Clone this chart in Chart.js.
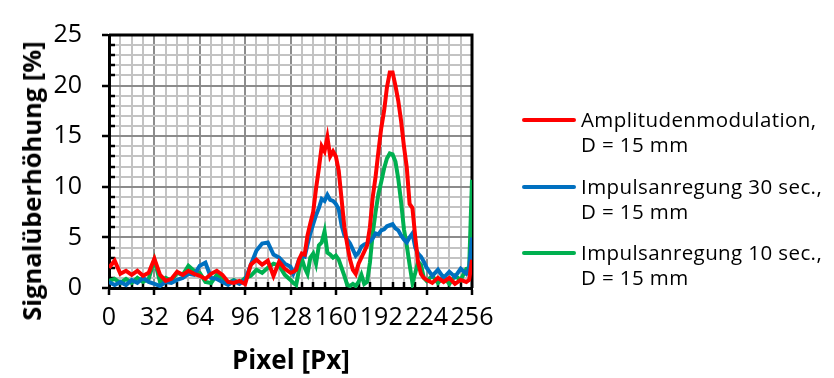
<!DOCTYPE html>
<html>
<head>
<meta charset="utf-8">
<script src="https://cdn.jsdelivr.net/npm/chart.js@4.4.1/dist/chart.umd.min.js"></script>
<style>
  html, body { margin: 0; padding: 0; background: #fff; }
  #wrap { position: relative; width: 834px; height: 378px; font-family: "Open Sans", sans-serif; color: #000; }
  #c { position: absolute; left: 0; top: 0; }
  .ytitle { position: absolute; left: 31px; top: 181px; transform: translate(-50%, -50%) rotate(-90deg);
            font-weight: bold; font-size: 25.5px; line-height: 26px; white-space: nowrap; }
  .xtitle { position: absolute; left: 291px; top: 359px; transform: translate(-50%, -50%);
            font-weight: bold; font-size: 26px; line-height: 26px; white-space: nowrap; }
  .sw { position: absolute; height: 4px; width: 54px; border-radius: 2px; }
  .lt { position: absolute; font-size: 20.5px; letter-spacing: 0.4px; line-height: 25px; white-space: nowrap; }
</style>
</head>
<body>
<div id="wrap">
  <canvas id="c" width="834" height="378"></canvas>
  <div class="ytitle">Signalüberhöhung [%]</div>
  <div class="xtitle">Pixel [Px]</div>
</div>
<script>
// ---- data ----
const pixels = [0,4,8,12,16,20,24,28,32,36,40,44,48,52,56,60,64,68,72,76,80,84,88,92,96,100,104,108,112,116,120,124,128,
  130,132,134,136,138,140,142,144,146,148,150,152,154,156,158,160,162,164,166,168,170,172,174,176,178,
  180,182,184,186,188,190,192,194,196,198,200,202,204,206,208,210,212,214,216,218,220,222,224,
  228,232,236,240,244,248,252,254,256];

const amplitudenmodulation = [2.0,2.7,1.4,1.7,1.3,1.7,1.2,1.5,2.9,1.3,0.7,0.9,1.6,1.3,1.7,1.4,1.2,0.9,1.4,1.7,1.3,0.6,0.5,0.7,0.4,2.3,2.8,2.3,2.7,1.2,2.6,1.9,1.5,
  1.6,1.8,2.8,3.4,3.3,5.2,6.4,7.5,9.8,11.8,14.0,13.5,14.9,13.0,13.5,13.0,11.6,8.8,6.0,4.3,2.8,1.8,1.4,2.4,3.0,
  3.6,4.2,6.0,9.0,11.0,13.5,15.8,17.5,19.8,21.3,21.3,20.0,18.5,16.5,14.0,11.9,8.3,7.9,5.0,2.5,1.4,1.0,0.8,
  0.5,1.0,0.6,1.0,0.4,0.8,0.6,0.8,2.8];

const impuls30 = [0.6,0.3,0.6,0.3,0.8,0.5,1.0,0.6,0.4,0.2,0.6,0.5,0.8,1.0,1.4,1.3,2.2,2.5,1.0,0.9,0.6,0.3,0.7,0.4,0.8,2.3,3.7,4.4,4.5,3.3,3.0,2.4,2.1,
  1.4,2.0,2.8,3.2,3.1,4.3,5.4,6.3,7.2,7.9,8.8,8.6,9.2,8.7,8.6,8.3,7.8,6.2,5.2,4.8,4.4,3.8,3.2,3.5,4.1,
  4.3,4.4,4.6,4.9,5.4,5.3,5.7,5.8,6.1,6.2,6.3,5.9,5.7,5.2,4.8,4.5,5.0,5.4,4.0,3.4,3.1,2.6,2.0,
  1.2,1.8,1.0,1.6,1.1,1.9,1.4,2.0,5.0];

const impuls10 = [0.7,0.9,0.5,0.9,0.5,1.0,0.6,0.9,2.8,0.6,1.0,0.7,1.5,1.3,2.2,1.7,1.5,0.6,0.5,1.3,1.0,0.5,0.8,0.5,1.0,1.2,1.8,1.5,2.0,2.4,2.2,1.3,0.8,
  0.5,0.3,1.8,2.9,2.0,1.4,3.0,3.4,2.4,4.2,4.5,5.6,3.5,3.3,3.0,3.2,2.8,2.0,1.2,0.3,0.2,0.4,0.2,0.6,1.3,
  0.4,0.6,2.5,5.4,7.5,9.3,10.5,11.8,12.8,13.3,13.2,12.5,10.8,8.5,5.8,4.2,2.3,0.5,1.5,2.6,2.3,1.0,0.7,
  1.2,0.5,1.1,0.4,1.2,0.8,1.9,2.0,10.7];

const seriesLabels = [
  ["Amplitudenmodulation,", "D = 15 mm"],
  ["Impulsanregung 30 sec.,", "D = 15 mm"],
  ["Impulsanregung 10 sec.,", "D = 15 mm"]
];
const seriesColors = ["#ff0000", "#0070c0", "#00b050"];
const xTickLabels = [0, 32, 64, 96, 128, 160, 192, 224, 256];
const yTickLabels = [0, 5, 10, 15, 20, 25];

// ---- legend (HTML) ----
const wrap = document.getElementById('wrap');
seriesLabels.forEach((lines, i) => {
  const top = 120 + 66.5 * i;
  const sw = document.createElement('div');
  sw.className = 'sw';
  sw.style.left = '522px';
  sw.style.top = (top - 2) + 'px';
  sw.style.background = seriesColors[i];
  wrap.appendChild(sw);
  const t = document.createElement('div');
  t.className = 'lt';
  t.style.left = '581px';
  t.style.top = (top - 13) + 'px';
  t.innerHTML = lines.join('<br>');
  wrap.appendChild(t);
});

// ---- chart ----
const allSeries = [amplitudenmodulation, impuls30, impuls10];
const datasets = allSeries.map((arr, i) => ({
  label: seriesLabels[i].join(' '),
  data: pixels.map((p, k) => ({ x: p, y: arr[k] })),
  borderColor: seriesColors[i],
  borderWidth: 4,
  pointRadius: 0,
  tension: 0,
  fill: false
}));

const framePlugin = {
  id: 'frame',
  beforeDatasetsDraw(chart) {
    const { ctx, chartArea: a, scales } = chart;
    const x = scales.x, y = scales.y;
    ctx.save();
    ctx.strokeStyle = '#000';
    ctx.lineWidth = 3;
    ctx.beginPath();
    ctx.moveTo(a.left, a.top);
    ctx.lineTo(a.right, a.top);
    ctx.lineTo(a.right, a.bottom);
    ctx.stroke();
    ctx.lineWidth = 2.5;
    ctx.beginPath();
    y.ticks.forEach(t => {
      if (!yTickLabels.includes(t.value)) {
        const py = Math.round(y.getPixelForValue(t.value));
        ctx.moveTo(a.left, py); ctx.lineTo(a.left + 6, py);
      }
    });
    x.ticks.forEach(t => {
      if (!xTickLabels.includes(t.value)) {
        const px = Math.round(x.getPixelForValue(t.value));
        ctx.moveTo(px, a.bottom); ctx.lineTo(px, a.bottom - 6);
      }
    });
    ctx.stroke();
    ctx.restore();
  }
};

new Chart(document.getElementById('c'), {
  type: 'line',
  data: { datasets },
  plugins: [framePlugin],
  options: {
    responsive: false,
    animation: false,
    devicePixelRatio: 1,
    layout: { padding: { left: 0, right: 362, top: 18, bottom: 0 } },
    plugins: { legend: { display: false }, tooltip: { enabled: false } },
    scales: {
      x: {
        type: 'linear', min: 0, max: 256,
        afterFit: s => { s.height = 90; },
        ticks: {
          stepSize: 8, autoSkip: false, maxRotation: 0, minRotation: 0,
          color: '#000', padding: 8,
          font: { family: '"Open Sans", sans-serif', size: 25 },
          callback: v => xTickLabels.includes(v) ? String(v) : ''
        },
        grid: {
          color: c => (c.tick && xTickLabels.includes(c.tick.value)) ? '#8c8c8c' : '#c3c3c3',
          lineWidth: 2,
          tickLength: 7,
          tickWidth: 2.5,
          tickColor: c => (c.tick && xTickLabels.includes(c.tick.value)) ? '#000' : 'rgba(0,0,0,0)'
        },
        border: { color: '#000', width: 3 }
      },
      y: {
        min: 0, max: 25,
        afterFit: s => { s.width = 109; },
        ticks: {
          stepSize: 1, autoSkip: false, color: '#000', padding: 20,
          font: { family: '"Open Sans", sans-serif', size: 25 },
          callback: v => yTickLabels.includes(v) ? String(v) : ''
        },
        grid: {
          color: c => (c.tick && yTickLabels.includes(c.tick.value)) ? '#8c8c8c' : '#c3c3c3',
          lineWidth: 2,
          tickLength: 7,
          tickWidth: 2.5,
          tickColor: c => (c.tick && yTickLabels.includes(c.tick.value)) ? '#000' : 'rgba(0,0,0,0)'
        },
        border: { color: '#000', width: 3 }
      }
    }
  }
});
</script>
</body>
</html>
